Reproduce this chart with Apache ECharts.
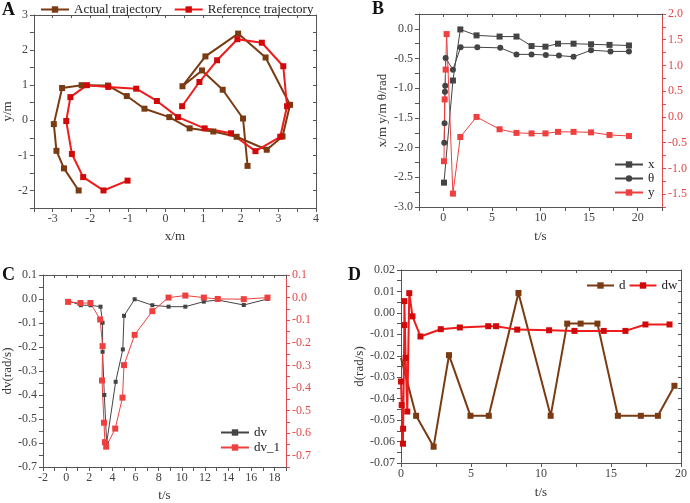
<!DOCTYPE html>
<html><head><meta charset="utf-8">
<script src="https://cdn.jsdelivr.net/npm/echarts@6/dist/echarts.min.js"></script>
<style>html,body{margin:0;padding:0;background:#fff}#c{width:690px;height:503px}</style>
</head><body><div id="c"></div>
<script>
// ---- Panel A: trajectories ----
const actualX = [-2.31,-2.70,-2.90,-2.97,-2.75,-2.23,-1.53,-1.03,-0.56,0.10,0.64,1.27,1.89,2.69,3.11,3.31,2.66,1.93,1.06,0.45,0.97,1.52,2.06,2.18];
const actualY = [-2.00,-1.37,-0.87,-0.11,0.92,1.00,0.99,0.69,0.33,0.09,-0.23,-0.32,-0.47,-0.84,-0.46,0.44,1.79,2.47,1.82,0.97,1.42,0.87,0.05,-1.30];
const refX = [-1.01,-1.65,-2.19,-2.49,-2.64,-2.53,-2.09,-1.52,-0.78,-0.23,0.33,1.04,1.74,2.39,3.05,3.23,3.13,2.56,1.91,1.37,0.90,0.44];
const refY = [-1.72,-2.00,-1.62,-0.96,-0.02,0.66,1.00,0.95,0.90,0.55,0.09,-0.23,-0.37,-0.88,-0.47,0.40,1.54,2.21,2.31,1.71,1.09,0.40];
// ---- Panel B ----
const bxT = [0.07,0.99,1.75,3.42,5.79,7.53,9.08,10.51,11.8,13.4,15.2,17.1,19.1];
const bxV = [-2.59,-0.87,-0.01,-0.11,-0.13,-0.13,-0.29,-0.30,-0.25,-0.25,-0.26,-0.27,-0.28];
const bthT = [0.10,0.13,0.17,0.20,0.24,0.99,1.78,3.5,5.86,7.53,9.08,10.55,11.9,13.4,15.2,17.2,19.1];
const bthV = [-1.92,-1.59,-1.06,-0.96,-0.49,-0.69,-0.31,-0.31,-0.32,-0.43,-0.43,-0.44,-0.45,-0.47,-0.36,-0.38,-0.38];
const byT = [0.07,0.14,0.24,0.34,0.99,1.75,3.42,5.79,7.53,9.08,10.51,11.8,13.4,15.2,17.1,19.1];
const byV = [-0.86,0.34,0.92,1.61,-1.49,-0.39,0.0,-0.24,-0.31,-0.32,-0.32,-0.29,-0.29,-0.30,-0.35,-0.37];
// ---- Panel C ----
const dvT = [0.23,1.27,2.1,2.97,3.15,3.15,3.3,3.5,4.28,4.9,5.0,5.92,7.45,8.85,10.3,11.9,13.1,15.35,17.4];
const dvV = [-0.008,-0.026,-0.026,-0.032,-0.099,-0.22,-0.40,-0.60,-0.345,-0.21,-0.07,-0.001,-0.026,-0.032,-0.032,-0.011,-0.004,-0.025,0.0];
const dv1T = [0.17,1.24,2.1,2.94,3.15,3.1,3.27,3.35,3.46,4.24,4.87,5.0,5.92,7.45,8.85,10.3,11.9,13.1,15.35,17.4];
const dv1V = [-0.019,-0.024,-0.024,-0.097,-0.215,-0.367,-0.554,-0.64,-0.66,-0.58,-0.443,-0.299,-0.165,-0.06,0.0,0.009,0.0,-0.006,-0.007,0.0];
// ---- Panel D ----
const dT = [0,1.08,2.33,3.43,4.96,6.27,8.39,10.69,11.87,12.83,14.03,15.49,17.13,18.35,19.53];
const dV = [-0.021,-0.048,-0.0624,-0.0197,-0.048,-0.048,0.0093,-0.048,-0.005,-0.005,-0.005,-0.048,-0.048,-0.048,-0.034];
const dwT = [0,0.05,0.14,0.15,0.24,0.24,0.33,0.45,0.59,0.82,1.39,2.84,4.2,6.23,6.79,8.3,10.58,12.39,14.48,16.03,17.46,19.18];
const dwV = [-0.032,-0.043,-0.061,-0.054,-0.0057,0.0055,-0.021,-0.046,0.0092,-0.0016,-0.011,-0.0076,-0.0068,-0.0062,-0.0062,-0.0078,-0.0081,-0.0084,-0.0084,-0.0084,-0.0054,-0.0054];

const zip = (a,b) => a.map((v,i)=>[v,b[i]]);
const FONT = 'Liberation Serif';
const AX = '#555';
const RED_AX = '#e4494b';
function every(step, dec){
  return v => { const r = v/step; if (Math.abs(r-Math.round(r))>1e-6) return '';
    const s = (Math.abs(v)<1e-9?0:v).toFixed(dec); return s; };
}
function xBottom(g, min, max, iv, fmt, name, gap){
  return {type:'value', gridIndex:g, position:'bottom', min, max, interval:iv,
    name, nameLocation:'middle', nameGap:gap, nameTextStyle:{fontFamily:FONT,fontSize:13,color:'#333'},
    axisLine:{onZero:false, lineStyle:{color:AX}}, axisTick:{length:4, lineStyle:{color:AX}},
    axisLabel:{formatter:fmt, fontFamily:FONT, fontSize:12, color:'#444', margin:5},
    splitLine:{show:false}};
}
function xTop(g, min, max, iv){
  return {type:'value', gridIndex:g, position:'top', min, max, interval:iv,
    axisLine:{onZero:false, lineStyle:{color:AX}}, axisTick:{inside:true,length:3, lineStyle:{color:AX}},
    axisLabel:{show:false}, splitLine:{show:false}};
}
function yAxis(g, pos, min, max, iv, fmt, name, gap, col, labCol){
  return {type:'value', gridIndex:g, position:pos, min, max, interval:iv,
    name, nameLocation:'middle', nameGap:gap, nameTextStyle:{fontFamily:FONT,fontSize:13,color:'#333'},
    axisLine:{show:true, onZero:false, lineStyle:{color:col}}, axisTick:{show:true,length:4, lineStyle:{color:col}},
    axisLabel:{formatter:fmt, fontFamily:FONT, fontSize:12, color:labCol, margin:6},
    splitLine:{show:false}};
}
function yMirror(g, pos, min, max, iv){
  return {type:'value', gridIndex:g, position:pos, min, max, interval:iv,
    axisLine:{show:true, onZero:false, lineStyle:{color:AX}}, axisTick:{show:true,inside:true,length:3, lineStyle:{color:AX}},
    axisLabel:{show:false}, splitLine:{show:false}};
}
function line(name, xi, yi, data, color, mcolor, symbol, size, width){
  return {name, type:'line', xAxisIndex:xi, yAxisIndex:yi, data, symbol, symbolSize:size,
    lineStyle:{color, width}, itemStyle:{color:mcolor, borderWidth:0}, emphasis:{disabled:true}, z:3};
}
const BROWN = '#7a3b12', RED = '#ee1c1c', REDM = '#d00a0a', GRAY = '#444', LRED = '#ef3f3f';

const dData = zip(dT,dV).map((p,i)=> i===0 ? {value:p, symbol:'none'} : p);
const legText = {fontFamily:FONT,fontSize:13,color:'#222'};

const option = {
  backgroundColor:'#fff', animation:false,
  grid:[
    {left:32, top:15, width:284, height:193},
    {left:419, top:14, width:243, height:193},
    {left:43, top:275, width:243, height:194},
    {left:401, top:270, width:284, height:193}
  ],
  xAxis:[
    xBottom(0,-3.5,4,0.5,every(1,0),'x/m',22), xTop(0,-3.5,4,0.5),
    xBottom(1,-2.5,22.5,2.5,every(5,0),'t/s',23), xTop(1,-2.5,22.5,2.5),
    xBottom(2,-2,19,1,every(2,0),'t/s',22), xTop(2,-2,19,1),
    xBottom(3,0,20,2.5,every(5,0),'t/s',23), xTop(3,0,20,2.5)
  ],
  yAxis:[
    yAxis(0,'left',-2.5,3,0.5,every(1,0),'y/m',16,AX,'#444'), yMirror(0,'right',-2.5,3,0.5),
    yAxis(1,'left',-3,0.25,0.25,every(0.5,1),'x/m y/m θ/rad',30,AX,'#444'),
    yAxis(1,'right',-1.75,2.0,0.25,every(0.5,1),'',0,RED_AX,RED_AX),
    yAxis(2,'left',-0.7,0.1,0.05,every(0.1,1),'dv(rad/s)',28,AX,'#444'),
    yAxis(2,'right',-0.75,0.1,0.05,every(0.1,1),'',0,RED_AX,RED_AX),
    yAxis(3,'left',-0.07,0.02,0.005,every(0.01,2),'d(rad/s)',35,AX,'#444'), yMirror(3,'right',-0.07,0.02,0.005)
  ],
  legend:[
    {data:['Actual trajectory','Reference trajectory'], left:35, top:-2, itemWidth:28, itemHeight:8, itemGap:12,
      textStyle:legText},
    {data:['x','θ','y'], orient:'vertical', left:609, top:153, itemWidth:28, itemHeight:8, itemGap:1,
      textStyle:legText},
    {data:['dv','dv_1'], orient:'vertical', left:215, top:421, itemWidth:28, itemHeight:8, itemGap:2,
      textStyle:legText},
    {data:['d','dw'], left:586, top:279, padding:0, width:110, itemWidth:27, itemHeight:8, itemGap:3,
      textStyle:legText}
  ],
  graphic:[
    {type:'text', left:2, top:1, style:{text:'A', font:'bold 18px "Liberation Serif"', fill:'#111'}},
    {type:'text', left:372, top:0, style:{text:'B', font:'bold 18px "Liberation Serif"', fill:'#111'}},
    {type:'text', left:2, top:266, style:{text:'C', font:'bold 18px "Liberation Serif"', fill:'#111'}},
    {type:'text', left:348, top:266, style:{text:'D', font:'bold 18px "Liberation Serif"', fill:'#111'}}
  ],
  series:[
    line('Actual trajectory',0,0,zip(actualX,actualY),BROWN,BROWN,'rect',6,2),
    line('Reference trajectory',0,0,zip(refX,refY),RED,REDM,'rect',6,2),
    line('x',2,2,zip(bxT,bxV),GRAY,GRAY,'rect',6,1),
    line('θ',2,2,zip(bthT,bthV),GRAY,GRAY,'circle',6,1),
    line('y',2,3,zip(byT,byV),LRED,LRED,'rect',6,1),
    line('dv',4,4,zip(dvT,dvV),GRAY,GRAY,'rect',4,1),
    line('dv_1',4,5,zip(dv1T,dv1V),LRED,LRED,'rect',6,1),
    line('d',6,6,dData,BROWN,BROWN,'rect',6,2),
    line('dw',6,6,zip(dwT,dwV),RED,REDM,'rect',6,2)
  ]
};
const chart = echarts.init(document.getElementById('c'), null, {renderer:'canvas'});
chart.setOption(option);
</script></body></html>
